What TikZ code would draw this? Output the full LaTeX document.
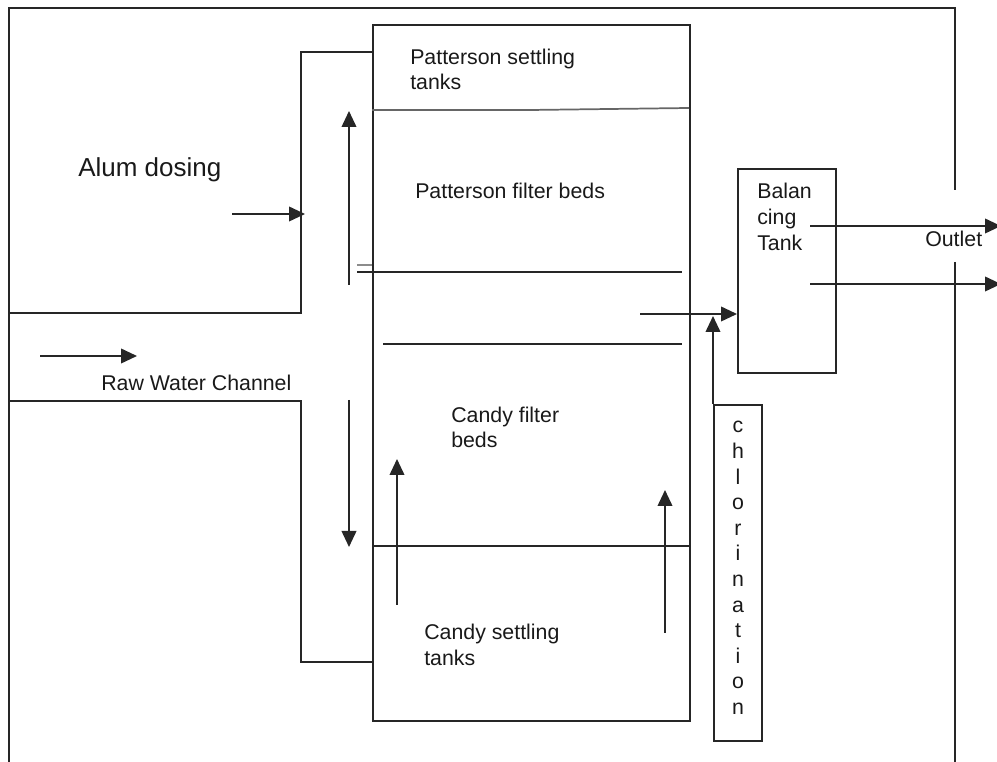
\documentclass[tikz,border=0pt]{standalone}
\usepackage{fontspec}
\setmainfont{Liberation Sans}
\usetikzlibrary{arrows.meta}
\begin{document}
\begin{tikzpicture}[x=0.75pt,y=-0.75pt,
  ln/.style={draw=black!85,line width=1.3pt},
  arr/.style={ln,-{Triangle[length=12pt,width=11pt]}},
  txt/.style={inner sep=0pt,anchor=base west,font=\fontsize{16}{19.5}\selectfont,text=black!90},
  letter/.style={inner sep=0pt,anchor=base,font=\fontsize{16}{19.5}\selectfont,text=black!90}]
\useasboundingbox (0,0) rectangle (997,762);
% outer frame
\draw[ln] (9,766) -- (9,8) -- (955,8) -- (955,190);
\draw[ln] (955,262) -- (955,766);
% alum dosing channel
\draw[ln] (9,313) -- (301,313) -- (301,52) -- (372,52);
% raw water channel lower wall
\draw[ln] (9,401) -- (301,401) -- (301,662) -- (372,662);
% main treatment block
\node[ln,inner sep=0pt,minimum width=317*0.75pt,minimum height=696*0.75pt,anchor=north west] (main) at (372,24) {};
\draw[draw=black!60,line width=1.3pt] (372,110) -- (530,110) -- (689,108);
\draw[ln] (357,272) -- (682,272);
\draw[draw=black!45,line width=1.3pt] (357,265) -- (372,265);
\draw[ln] (383,344) -- (682,344);
\draw[ln] (372,546) -- (689,546);
% balancing tank
\node[ln,inner sep=0pt,minimum width=98*0.75pt,minimum height=204*0.75pt,anchor=north west] (bal) at (737,168) {};
% chlorination
\node[ln,inner sep=0pt,minimum width=48*0.75pt,minimum height=336*0.75pt,anchor=north west] (chl) at (713,404) {};
% coordinates for arrows
\coordinate (a1) at (232,214); \coordinate (a2) at (305,214);
\coordinate (r1) at (40,356);  \coordinate (r2) at (137,356);
\coordinate (u1) at (349,285); \coordinate (u2) at (349,111);
\coordinate (d1) at (349,400); \coordinate (d2) at (349,547);
\coordinate (c1) at (397,605); \coordinate (c2) at (397,459);
\coordinate (e1) at (665,633); \coordinate (e2) at (665,490);
\coordinate (f1) at (640,314); \coordinate (f2) at (737,314);
\coordinate (o1) at (810,226); \coordinate (o2) at (1001,226);
\coordinate (p1) at (810,284); \coordinate (p2) at (1001,284);
\draw[arr] (a1) -- (a2);
\draw[arr] (r1) -- (r2);
\draw[arr] (u1) -- (u2);
\draw[arr] (d1) -- (d2);
\draw[arr] (c1) -- (c2);
\draw[arr] (e1) -- (e2);
\draw[arr] (f1) -- (f2);
\draw[arr] (chl.north west) -- ++(0,-88);
\draw[arr] (o1) -- (o2);
\draw[arr] (p1) -- (p2);
% texts
\node[txt] (t1) at (410,65) {Patterson settling};
\node[txt] (t2) at (410,90) {tanks};
\node[txt,font=\fontsize{19.5}{23}\selectfont] (t3) at (78,177) {Alum dosing};
\node[txt] (t4) at (415,199) {Patterson filter beds};
\node[txt] (t5) at (101,391) {Raw Water Channel};
\node[txt] (t6) at (451,423) {Candy filter};
\node[txt] (t7) at (451,448) {beds};
\node[txt] (t8) at (424,640) {Candy settling};
\node[txt] (t9) at (424,666) {tanks};
\node[txt] (t10) at (757,199) {Balan};
\node[txt] (t11) at (757,225) {cing};
\node[txt] (t12) at (757,251) {Tank};
\node[txt] (t13) at (925,247) {Outlet};
\foreach \ch [count=\i from 0] in {c,h,l,o,r,i,n,a,t,i,o,n}{%
  \node[letter] (ch\i) at (738,433+25.6*\i) {\ch};}
\end{tikzpicture}
\end{document}
